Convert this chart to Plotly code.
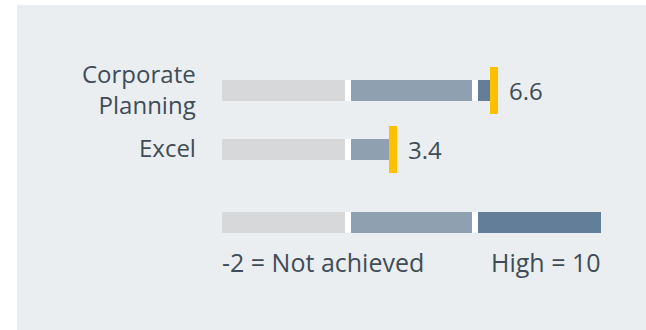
import plotly.graph_objects as go

# ---- data ----
categories = ["Corporate<br>Planning", "Excel"]
values = [6.6, 3.4]
range_bounds = [-2, 2, 6, 10]
range_colors = ["#D7D8DA", "#8FA1B0", "#627E98"]
legend_labels = ["-2 = Not achieved", "High = 10"]

# ---- style / layout constants ----
FONT = "Open Sans"
TEXT_COLOR = "#3F4C57"
PANEL = "#EAEEF1"
MARKER_COLOR = "#FFC000"
row_y = [0, 1]
legend_y = 2.237
BAR_W = 0.356
MARK_H = 0.80
MARK_W = 0.25
GAP = 0.19

fig = go.Figure()

# rows: data rows + legend scale row (full range)
all_vals = values + [range_bounds[-1]]
all_y = row_y + [legend_y]

for i, col in enumerate(range_colors):
    lo, hi = range_bounds[i], range_bounds[i + 1]
    bases, lens, ys = [], [], []
    for v, y in zip(all_vals, all_y):
        if v > lo:
            bases.append(lo)
            lens.append(min(v, hi) - lo)
            ys.append(y)
    fig.add_trace(go.Bar(orientation="h", base=bases, x=lens, y=ys,
                         width=BAR_W, marker=dict(color=col, line=dict(width=0)),
                         hoverinfo="skip", showlegend=False))

# white separators between range segments
sb, sl, sy = [], [], []
for b in range_bounds[1:-1]:
    for v, y in zip(all_vals, all_y):
        if v > b:
            sb.append(b - GAP / 2)
            sl.append(GAP)
            sy.append(y)
fig.add_trace(go.Bar(orientation="h", base=sb, x=sl, y=sy, width=BAR_W,
                     marker=dict(color="white", line=dict(width=0)),
                     hoverinfo="skip", showlegend=False))

# value markers
fig.add_trace(go.Bar(orientation="h", base=[v - MARK_W / 2 for v in values],
                     x=[MARK_W] * len(values), y=row_y, width=MARK_H,
                     marker=dict(color=MARKER_COLOR, line=dict(width=0)),
                     hoverinfo="skip", showlegend=False))

annotations = []
for v, y, c in zip(values, row_y, categories):
    annotations.append(dict(x=v, y=y, xref="x", yref="y", text=f"{v}",
                            showarrow=False, xanchor="left", yanchor="middle",
                            xshift=13, font=dict(size=24, color=TEXT_COLOR, family=FONT)))
    annotations.append(dict(x=range_bounds[0], y=y, xref="x", yref="y", text=c,
                            showarrow=False, xanchor="right", yanchor="middle",
                            align="right", xshift=-24, yshift=2,
                            font=dict(size=24, color=TEXT_COLOR, family=FONT)))
annotations.append(dict(x=range_bounds[0], y=legend_y, xref="x", yref="y",
                        text=legend_labels[0], showarrow=False, xanchor="left",
                        yanchor="middle", yshift=-40, xshift=-2,
                        font=dict(size=25, color=TEXT_COLOR, family=FONT)))
annotations.append(dict(x=range_bounds[-1], y=legend_y, xref="x", yref="y",
                        text=legend_labels[1], showarrow=False, xanchor="right",
                        yanchor="middle", yshift=-40, xshift=2,
                        font=dict(size=25, color=TEXT_COLOR, family=FONT)))

fig.update_layout(
    width=646, height=330,
    margin=dict(l=17, r=0, t=5, b=0),
    paper_bgcolor="white", plot_bgcolor=PANEL,
    barmode="overlay", bargap=0,
    xaxis=dict(range=[-8.491, 11.425], visible=False, fixedrange=True),
    yaxis=dict(range=[4.059, -1.449], visible=False, fixedrange=True),
    annotations=annotations,
    font=dict(family=FONT, color=TEXT_COLOR),
)

fig.write_html("out.html", config={"displayModeBar": False},
               post_script="document.body.style.margin='0px';document.body.style.overflow='hidden';")
